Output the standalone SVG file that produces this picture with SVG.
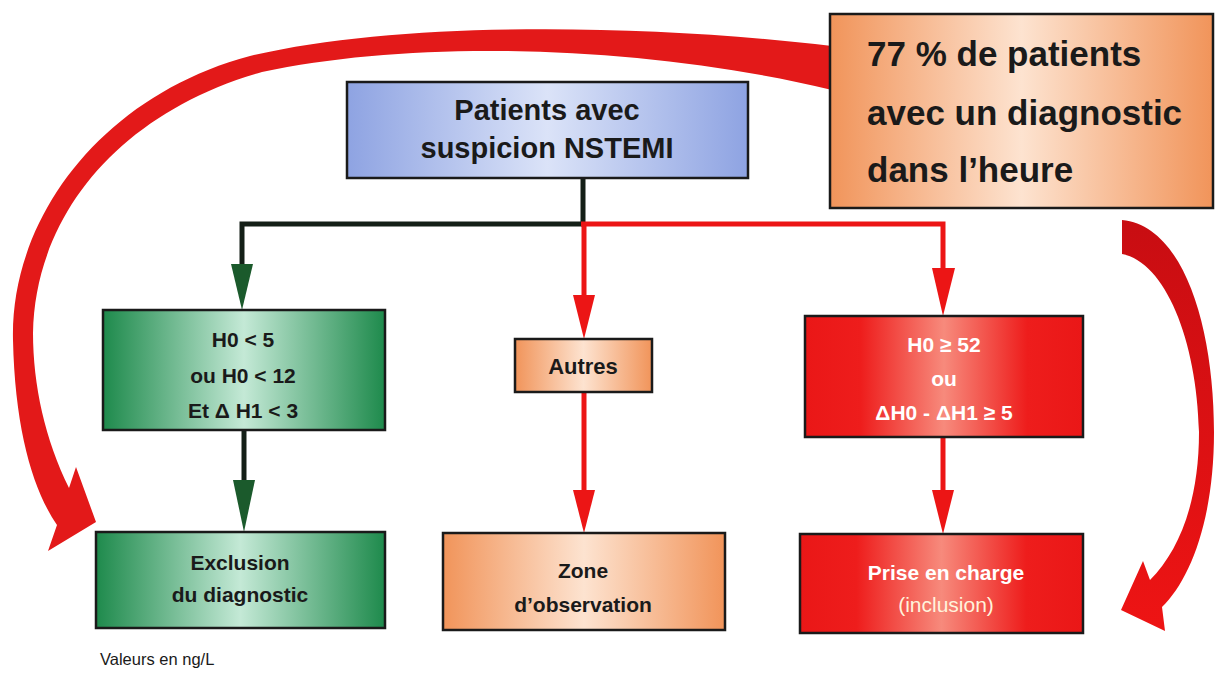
<svg xmlns="http://www.w3.org/2000/svg" width="1215" height="677" viewBox="0 0 1215 677">
<defs>
<linearGradient id="gBlue" x1="0" y1="0" x2="1" y2="0">
<stop offset="0" stop-color="#8ea3e2"/><stop offset="0.5" stop-color="#dbe3f8"/><stop offset="1" stop-color="#8ea3e2"/>
</linearGradient>
<linearGradient id="gOrange" x1="0" y1="0" x2="1" y2="0">
<stop offset="0" stop-color="#f1945a"/><stop offset="0.5" stop-color="#fde3d0"/><stop offset="1" stop-color="#f1945a"/>
</linearGradient>
<linearGradient id="gGreen" x1="0" y1="0" x2="1" y2="0">
<stop offset="0" stop-color="#1e8a4c"/><stop offset="0.5" stop-color="#c4e9d6"/><stop offset="1" stop-color="#1e8a4c"/>
</linearGradient>
<linearGradient id="gRed" x1="0" y1="0" x2="1" y2="0">
<stop offset="0" stop-color="#ea1717"/><stop offset="0.2" stop-color="#ee1d1c"/><stop offset="0.5" stop-color="#f78a7c"/><stop offset="0.8" stop-color="#ee1d1c"/><stop offset="1" stop-color="#ea1717"/>
</linearGradient>
<linearGradient id="gCurveR" x1="0" y1="0" x2="0" y2="1">
<stop offset="0" stop-color="#c80d12"/><stop offset="1" stop-color="#ee1414"/>
</linearGradient>
</defs>
<style>
.box{stroke:#1a1a1a;stroke-width:2.5}
.t{font-family:"Liberation Sans",Arial,sans-serif;font-weight:bold;text-anchor:middle;fill:#1a1a1a}
.w{fill:#ffffff}
.big{font-size:35px;text-anchor:start}
.ln{fill:none;stroke-width:5;stroke-linecap:butt}
.blk{stroke:#141f17}
.red{stroke:#ec1515}
.hg{fill:#1b5a2c}
.hr{fill:#ec1515}
</style>
<rect width="1215" height="677" fill="#ffffff"/>

<g id="connectors">
<path id="curve-left" fill="#e31919" d="M832,46 C650,24 400,20 250,56 C100,96 10,220 13,340 C15,430 33,490 57,525 L48,551 L96,522 L76,467 L69,488 C45,440 33,385 33,333 C35,215 120,112 262,72 C420,38 650,46 832,90 Z"/>
<path id="curve-right" fill="url(#gCurveR)" d="M1122,220 C1185,226 1214,330 1214,432 C1214,520 1190,580 1162,607 L1165,631 L1121,610 L1143,561 L1150,580 C1180,550 1199,500 1199,432 C1197,340 1165,262 1122,254 Z"/>
<polyline class="ln blk" points="583,178 583,224"/>
<polyline class="ln blk" points="585,224 242,224 242,266"/>
<polygon class="hg" points="231,264 253,264 242,310"/>
<polyline class="ln red" points="581,224 943,224 943,270"/>
<polygon class="hr" points="932,268 955,268 943,316"/>
<polyline class="ln red" points="584,226 584,297"/>
<polygon class="hr" points="573,295 595,295 584,339"/>
<polyline class="ln blk" points="244,430 244,482"/>
<polygon class="hg" points="233,480 255,480 244,532"/>
<polyline class="ln red" points="584,392 584,492"/>
<polygon class="hr" points="573,490 595,490 584,533"/>
<polyline class="ln red" points="943,437 943,492"/>
<polygon class="hr" points="932,490 954,490 943,534"/>
</g>

<g id="node-patients">
<rect class="box" x="347" y="82" width="401" height="96" fill="url(#gBlue)"/>
<text class="t" x="547" y="120" font-size="29">Patients avec</text>
<text class="t" x="547" y="158" font-size="29">suspicion NSTEMI</text>
</g>

<g id="node-77">
<rect class="box" x="830" y="14" width="383" height="194" fill="url(#gOrange)"/>
<text class="t big" x="867" y="66">77 % de patients</text>
<text class="t big" x="867" y="125">avec un diagnostic</text>
<text class="t big" x="867" y="182">dans l’heure</text>
</g>

<g id="node-h0-low">
<rect class="box" x="103" y="310" width="282" height="120" fill="url(#gGreen)"/>
<text class="t" x="243" y="347" font-size="21">H0 &lt; 5</text>
<text class="t" x="243" y="383" font-size="21">ou H0 &lt; 12</text>
<text class="t" x="243" y="418" font-size="21">Et Δ H1 &lt; 3</text>
</g>

<g id="node-autres">
<rect class="box" x="515" y="339" width="137" height="53" fill="url(#gOrange)"/>
<text class="t" x="583" y="374" font-size="22">Autres</text>
</g>

<g id="node-h0-high">
<rect class="box" x="805" y="316" width="278" height="121" fill="url(#gRed)"/>
<text class="t w" x="944" y="352" font-size="21">H0 ≥ 52</text>
<text class="t w" x="944" y="386" font-size="21">ou</text>
<text class="t w" x="944" y="420" font-size="21">ΔH0 - ΔH1 ≥ 5</text>
</g>

<g id="node-exclusion">
<rect class="box" x="96" y="532" width="289" height="96" fill="url(#gGreen)"/>
<text class="t" x="240" y="570" font-size="21">Exclusion</text>
<text class="t" x="240" y="602" font-size="21">du diagnostic</text>
</g>

<g id="node-zone">
<rect class="box" x="443" y="533" width="282" height="97" fill="url(#gOrange)"/>
<text class="t" x="583" y="578" font-size="21">Zone</text>
<text class="t" x="583" y="612" font-size="21">d’observation</text>
</g>

<g id="node-prise">
<rect class="box" x="800" y="534" width="283" height="99" fill="url(#gRed)"/>
<text class="t w" x="946" y="580" font-size="21">Prise en charge</text>
<text class="t w" x="946" y="612" font-size="21" font-weight="normal" style="font-weight:normal;fill:#fff3dc">(inclusion)</text>
</g>

<text id="note" x="100" y="665" font-family="Liberation Sans, Arial, sans-serif" font-size="16.5" fill="#1a1a1a">Valeurs en ng/L</text>
</svg>
